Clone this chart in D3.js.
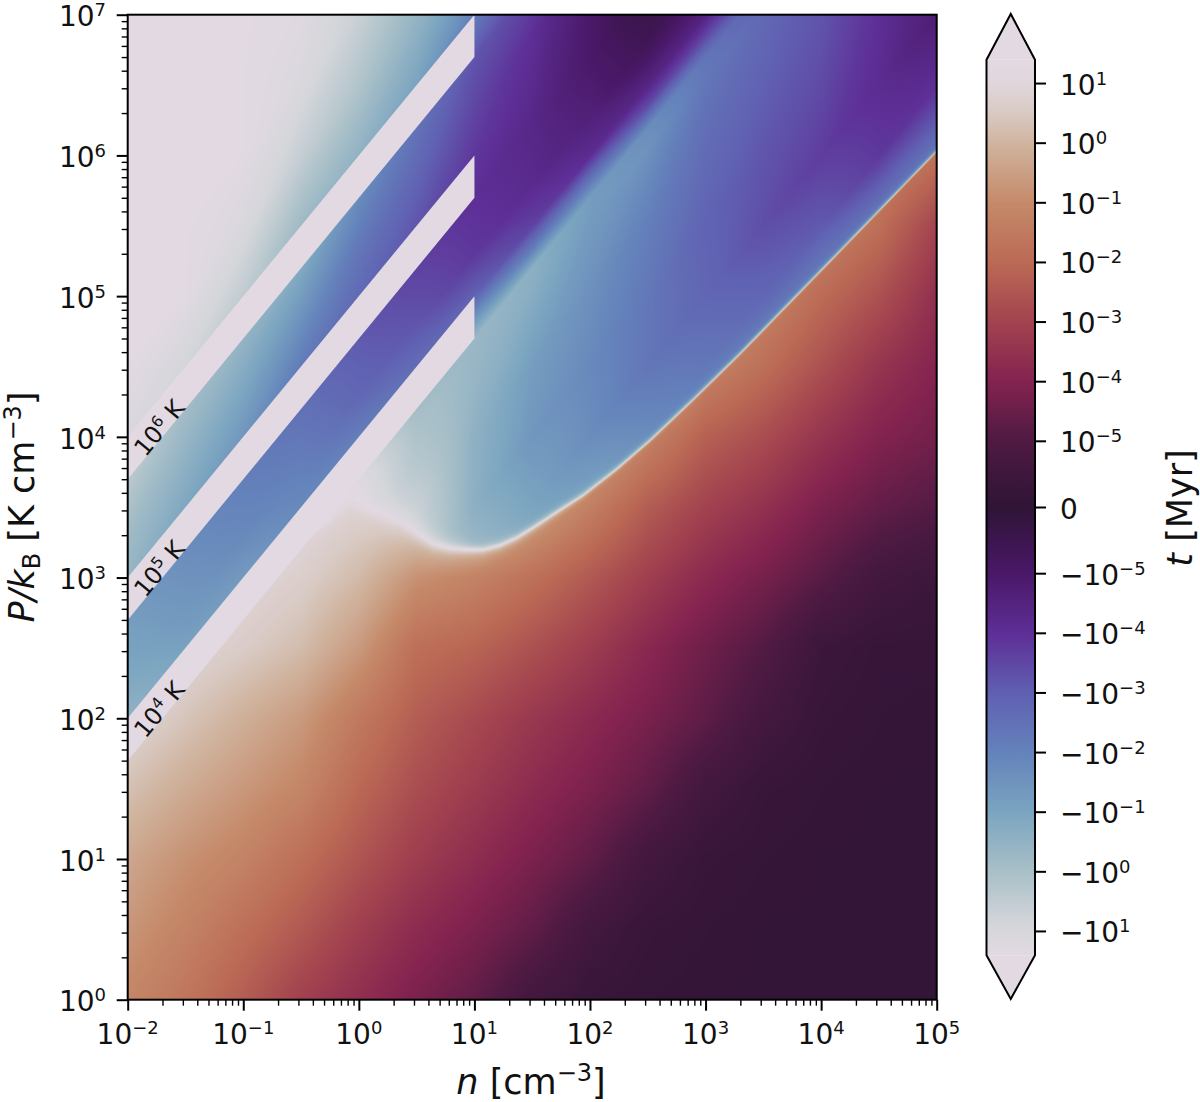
<!DOCTYPE html>
<html><head><meta charset="utf-8">
<style>html,body{margin:0;padding:0;background:#fff}svg{display:block}text{font-family:"DejaVu Sans";fill:#111}</style>
<script src="https://cdn.jsdelivr.net/npm/d3@7"></script></head><body><div id="c"></div>
<script>
// Axis ticks
const nExps=[-2,-1,0,1,2,3,4,5];
const pExps=[0,1,2,3,4,5,6,7];
const cbarExps=[1,0,-1,-2,-3,-4,-5];
// Temperature stripes
const stripeT=[1e4,1e5,1e6];
const stripeLabels=[4,5,6];
const stripeNRange=[1e-2,10];
const stripeLowFactor=0.5;
// Colour bar: signed position u -> colour (u=sign(t)*(log10|t|+6.11), 0 at t=0)
const cmapU=[-7.51,-7,-6.12,-5.12,-4.12,-3.12,-2.12,-1.12,0,1.12,2.12,3.12,4.12,5.12,6.12,6.6,7.1,7.51];
const cmapC=["#e2d9e2","#d4d6da","#a9c0c8","#7ba5c0","#6483bb","#6060b2","#5e2f97","#4a1868","#2f1436","#4f1a43","#84234f","#a3434f","#bb6a55","#c58a6a","#d0b5a0","#d8c9c2","#e0d6dc","#e2d9e2"];
// Zero-time curve: log n, log P
const edgeLogN=[-2,-0.5,-0.077,0.07,0.356,0.503,0.642,0.79,0.937,1.075,1.22,1.37,1.51,1.72,1.94,2.23,2.52,2.9,3.298,4.163,5];
const edgeLogP=[1.72,3.22,3.57,3.51,3.406,3.32,3.243,3.21,3.20,3.20,3.23,3.286,3.357,3.47,3.585,3.77,3.975,4.27,4.59,5.32,6.03];
// Width of the pale rim along that curve, in dex
const rimLogN=[-2,-0.4,0,0.5,1,2,3,5];
const rimHot=[0.05,0.05,0.08,0.06,0.025,0.018,0.014,0.011];
const rimCool=[0.006,0.006,0.05,0.05,0.03,0.012,0.007,0.005];
// Field columns (log n) shared by both tables
const gridLogN=[-2,-1.5,-1,-0.5,0,0.5,1,1.5,2,2.5,3,3.5,4,4.5,5];
// Above the curve: rows by log T
const hotLogT=[1,1.5,2,2.5,3,3.3,3.55,3.7,3.85,4,4.3,4.7,5,5.35,5.7,6,6.5,7,7.5,8,9];
const hotU=[
[-7.5,-7.5,-7.5,-7.5,-7.5,-7.5,-6,-5.8,-5.5,-5.2,-5,-4.6,-4.4,-4.2,-3.9],
[-7.5,-7.5,-7.5,-7.5,-7.5,-7,-6,-5.5,-5.2,-4.4,-3.8,-3.3,-3,-2.3,-2.1],
[-7.5,-7.5,-7.5,-7.5,-7.5,-7,-6,-5.1,-4.4,-3.75,-3.3,-2.75,-2.4,-2,-1.35],
[-7.5,-7.5,-7.5,-7.5,-7.5,-7,-5.5,-4.7,-4.3,-3.8,-3.2,-2.9,-2.7,-2.1,-1.5],
[-7.5,-7.5,-7.5,-7.5,-7.5,-6.8,-5.55,-4.9,-4.5,-4,-3.45,-3.15,-2.9,-2.3,-1.5],
[-7.5,-7.5,-7.5,-7.5,-7.5,-6.4,-5.7,-5.2,-4.7,-4.3,-3.6,-3.3,-2.9,-2.3,-1.5],
[-7.5,-7.5,-7.5,-7.5,-7.5,-6.2,-5.75,-5.45,-4.85,-4.6,-3.8,-3.4,-2.9,-2.3,-1.5],
[-7.5,-7.5,-7.5,-7.5,-7.3,-6,-5.8,-5.5,-4.9,-4.4,-3.7,-3.1,-2.8,-2.3,-1.5],
[-5.8,-5.3,-5,-4.6,-4.4,-4.5,-4.6,-3.8,-3.5,-2.7,-2.6,-2.4,-2.6,-2.3,-1.5],
[-5.6,-5,-4.8,-4.3,-4,-3.5,-3.2,-2.5,-2,-1.7,-1.6,-1.8,-2.3,-2.2,-1.5],
[-5.2,-4.7,-4.3,-4,-3.3,-2.9,-2.3,-1.9,-1.45,-0.7,-0.8,-1.2,-1.8,-2,-1.5],
[-4.9,-4.4,-4,-3.6,-3,-2.5,-2.1,-1.8,-1.15,-0.25,-0.5,-0.8,-1.2,-1.5,-1.5],
[-5.7,-5.2,-4.7,-3.9,-3.4,-2.9,-2.3,-1.95,-1.15,-0.3,-0.5,-0.8,-1.2,-1.5,-1.5],
[-6,-5.6,-5.2,-4.6,-3.8,-3.3,-2.6,-2.1,-1.3,-0.5,-0.5,-0.8,-1.2,-1.5,-1.5],
[-6.5,-6,-5.7,-5.3,-4.4,-3.7,-2.9,-2.6,-1.6,-0.5,-0.5,-0.8,-1.2,-1.5,-1.5],
[-7.2,-7,-6.6,-5.9,-5.6,-5.1,-4,-3.2,-2,-0.5,-0.5,-0.8,-1.2,-1.5,-1.5],
[-7.5,-7.5,-7.2,-6.7,-6.3,-5.7,-5.3,-3.6,-2.5,-0.5,-0.5,-0.8,-1.2,-1.5,-1.5],
[-7.5,-7.5,-7.5,-7.2,-6.8,-6.3,-5.8,-4,-2.5,-0.5,-0.5,-0.8,-1.2,-1.5,-1.5],
[-7.5,-7.5,-7.5,-7.4,-6.9,-6.5,-6,-4,-2.5,-0.5,-0.5,-0.8,-1.2,-1.5,-1.5],
[-7.5,-7.5,-7.5,-7.5,-7.2,-7,-6.5,-4,-2.5,-0.5,-0.5,-0.8,-1.2,-1.5,-1.5],
[-7.5,-7.5,-7.5,-7.5,-7.5,-7.5,-7,-4,-2.5,-0.5,-0.5,-0.8,-1.2,-1.5,-1.5]
];
// Below the curve: rows by log P
const coolLogP=[0,0.5,1,1.5,2,2.5,3,3.5,4,4.5,5,5.5,6,6.5,7];
const coolU=[
[5,4.5,3.8,3.05,2.5,1.95,1.45,0.7,0.3,0.2,0.15,0.15,0.15,0.15,0.15],
[5.4,4.9,4.3,3.7,3,2.4,1.95,1.45,0.7,0.3,0.2,0.15,0.15,0.15,0.15],
[5.8,5.3,4.9,4.3,3.6,2.95,2.45,1.95,1.45,0.7,0.3,0.2,0.15,0.15,0.15],
[6.4,5.9,5.45,5,4.1,3.4,2.9,2.4,1.95,1.45,0.7,0.3,0.2,0.15,0.15],
[7,6.5,6,5.5,4.6,3.8,3.3,2.8,2.35,1.9,1.4,0.75,0.3,0.2,0.15],
[7.3,7,6.7,6.3,5.5,4.3,4,3.5,2.95,2.3,1.7,1.2,0.45,0.25,0.25],
[7.5,7.3,7.1,6.8,6.25,5.3,4.9,4.35,3.7,3,2.35,1.85,1.3,0.7,0.45],
[7.5,7.5,7.4,7.2,6.9,7,7,5.8,4.8,3.8,3.1,2.6,1.95,1.5,1.2],
[7.5,7.5,7.5,7.5,7.3,7.2,7.2,7,6,4.9,3.9,3.4,2.7,2.1,1.8],
[7.5,7.5,7.5,7.5,7.5,7.5,7.5,7.5,7,6.5,5,4.3,3.5,2.7,2.15],
[7.5,7.5,7.5,7.5,7.5,7.5,7.5,7.5,7.5,7.2,6,5,4.2,3.5,2.55],
[7.5,7.5,7.5,7.5,7.5,7.5,7.5,7.5,7.5,7.5,7,6,5,4.3,3.15],
[7.5,7.5,7.5,7.5,7.5,7.5,7.5,7.5,7.5,7.5,7.5,7,6,5,4.4],
[7.5,7.5,7.5,7.5,7.5,7.5,7.5,7.5,7.5,7.5,7.5,7.5,7,6,5],
[7.5,7.5,7.5,7.5,7.5,7.5,7.5,7.5,7.5,7.5,7.5,7.5,7.5,7,6]
];
const W=1200,H=1102;
const L=127.7,R=936.7,T=14.7,B=999.7;
const x=d3.scaleLog().domain([1e-2,1e5]).range([L,R]);
const y=d3.scaleLog().domain([1,1e7]).range([B,T]);
const uScale=d3.scaleLinear().domain([-7.51,7.51]).range([955.3,59.7]);
const colorOf=d3.scaleLinear().domain(cmapU).range(cmapC).interpolate(d3.interpolateRgb).clamp(true);
const edge=d3.scaleLinear().domain(edgeLogN).range(edgeLogP);
const hotRim=d3.scaleLinear().domain(rimLogN).range(rimHot).clamp(true);
const coolRim=d3.scaleLinear().domain(rimLogN).range(rimCool).clamp(true);
const LUTN=1500,lut=[];
for(let i=0;i<=LUTN;i++){const c=d3.rgb(colorOf(-7.51+15.02*i/LUTN));lut.push([c.r,c.g,c.b]);}
function bil(xs,ys,m,a,b){
  const i=Math.max(0,Math.min(xs.length-2,d3.bisectRight(xs,a)-1));
  const j=Math.max(0,Math.min(ys.length-2,d3.bisectRight(ys,b)-1));
  const fx=Math.max(0,Math.min(1,(a-xs[i])/(xs[i+1]-xs[i])));
  const fy=Math.max(0,Math.min(1,(b-ys[j])/(ys[j+1]-ys[j])));
  return (m[j][i]*(1-fx)+m[j][i+1]*fx)*(1-fy)+(m[j+1][i]*(1-fx)+m[j+1][i+1]*fx)*fy;
}
// Raster of the field: near the curve the value runs out to the ends of the colour bar
const iw=Math.round(R-L),ih=Math.round(B-T);
const cv=document.createElement("canvas");cv.width=iw;cv.height=ih;
const ctx=cv.getContext("2d");const img=ctx.createImageData(iw,ih);
let k=0;
for(let py=0;py<ih;py++){
  const logP=Math.log10(y.invert(T+(py+.5)*(B-T)/ih));
  for(let px=0;px<iw;px++){
    const logN=Math.log10(x.invert(L+(px+.5)*(R-L)/iw));
    const d=logP-edge(logN);
    let u;
    if(d>=0){const v=bil(gridLogN,hotLogT,hotU,logN,logP-logN),w=Math.exp(-d/hotRim(logN));u=v+(-7.51-v)*w;}
    else{const v=bil(gridLogN,coolLogP,coolU,logN,logP),w=Math.exp(d/coolRim(logN));u=v+(7.51-v)*w;}
    const c=lut[Math.max(0,Math.min(LUTN,Math.round((u+7.51)/15.02*LUTN)))];
    img.data[k++]=c[0];img.data[k++]=c[1];img.data[k++]=c[2];img.data[k++]=255;
  }
}
ctx.putImageData(img,0,0);
const svg=d3.select("#c").append("svg").attr("width",W).attr("height",H).attr("viewBox",`0 0 ${W} ${H}`);
svg.append("image").attr("x",L).attr("y",T).attr("width",R-L).attr("height",B-T).attr("preserveAspectRatio","none").attr("href",cv.toDataURL());
// Stripes
const line=d3.line().x(d=>x(d[0])).y(d=>y(d[1]));
svg.selectAll("path.stripe").data(stripeT).join("path").attr("class","stripe").attr("fill","#e2d9e2")
 .attr("d",t=>line([[stripeNRange[0],stripeNRange[0]*t],[stripeNRange[1],stripeNRange[1]*t],[stripeNRange[1],stripeNRange[1]*t*stripeLowFactor],[stripeNRange[0],stripeNRange[0]*t*stripeLowFactor]])+"Z");
function pow(sel,pre,exp){
  sel.append("tspan").text(pre+"10");
  sel.append("tspan").attr("dy",-10).attr("font-size",18).text(exp);
}
const angle=-Math.atan((y(1)-y(10))/(x(10)-x(1)))*180/Math.PI;
stripeT.forEach((t,i)=>{
  const n=0.0187,p=n*t*0.62,f=24;
  const g=svg.append("text").attr("transform",`translate(${x(n)},${y(p)}) rotate(${angle})`).attr("text-anchor","middle").attr("dy",8.5).attr("font-size",f);
  g.append("tspan").text("10");
  g.append("tspan").attr("dy",-0.36*f).attr("font-size",f*0.65).text(stripeLabels[i]);
  g.append("tspan").attr("dy",0.36*f).text(" K");
});
// Axes
const fs=28;
function styleAxis(g,isMajor,major,minor,horizontal){
  g.select(".domain").remove();
  g.selectAll(".tick text").remove();
  g.selectAll(".tick line").attr("stroke","#000")
   .attr("stroke-width",d=>isMajor(d)?2:1.4)
   .each(function(d){const l=isMajor(d)?major:minor;d3.select(this).attr(horizontal?"y2":"x2",horizontal?l:-l);});
}
const isDec=d=>Math.abs(Math.log10(d)-Math.round(Math.log10(d)))<1e-6;
const gx=svg.append("g").attr("transform",`translate(0,${B})`).call(d3.axisBottom(x).tickValues(x.ticks()));
styleAxis(gx,isDec,11,6,true);
const gy=svg.append("g").attr("transform",`translate(${L},0)`).call(d3.axisLeft(y).tickValues(y.ticks()));
styleAxis(gy,isDec,11,6,false);
nExps.forEach(e=>{
  const t=svg.append("text").attr("x",x(10**e)).attr("y",1043.5).attr("text-anchor","middle").attr("font-size",fs);
  pow(t,"",e<0?"\u2212"+(-e):e);
});
pExps.forEach(e=>{
  const t=svg.append("text").attr("x",106).attr("y",y(10**e)+11.7).attr("text-anchor","end").attr("font-size",fs);
  pow(t,"",e);
});
svg.append("rect").attr("x",L).attr("y",T).attr("width",R-L).attr("height",B-T).attr("fill","none").attr("stroke","#000").attr("stroke-width",2);
// Axis titles
const tf=35,tsup=24;
const tx=svg.append("text").attr("x",531).attr("y",1094).attr("text-anchor","middle").attr("font-size",tf);
tx.append("tspan").attr("font-style","italic").text("n");
tx.append("tspan").text(" [cm");
tx.append("tspan").attr("dy",-13).attr("font-size",tsup).text("\u22123");
tx.append("tspan").attr("dy",13).text("]");
const ty=svg.append("text").attr("transform","translate(33.5,507) rotate(-90)").attr("text-anchor","middle").attr("font-size",tf);
ty.append("tspan").attr("font-style","italic").text("P/k");
ty.append("tspan").attr("dy",6).attr("font-size",tsup).text("B");
ty.append("tspan").attr("dy",-6).text(" [K cm");
ty.append("tspan").attr("dy",-13).attr("font-size",tsup).text("\u22123");
ty.append("tspan").attr("dy",13).text("]");
const tc=svg.append("text").attr("transform","translate(1192,508) rotate(-90)").attr("text-anchor","middle").attr("font-size",tf);
tc.append("tspan").attr("font-style","italic").text("t");
tc.append("tspan").text(" [Myr]");
// Colour bar
const cL=986.5,cR=1035,cM=(cL+cR)/2,cTip=14,cBot=999;
const defs=svg.append("defs");
const grad=defs.append("linearGradient").attr("id","cb").attr("gradientUnits","userSpaceOnUse").attr("x1",0).attr("x2",0).attr("y1",uScale(-7.51)).attr("y2",uScale(7.51));
grad.selectAll("stop").data(cmapU).join("stop").attr("offset",d=>(d+7.51)/15.02).attr("stop-color",(d,i)=>cmapC[i]);
const cbTop=uScale(7.51),cbBot=uScale(-7.51);
const outline=[[cL,cbTop],[cM,cTip],[cR,cbTop],[cR,cbBot],[cM,cBot],[cL,cbBot]];
svg.append("path").attr("d",`M${cL},${cbTop}L${cM},${cTip}L${cR},${cbTop}Z`).attr("fill",cmapC[cmapC.length-1]);
svg.append("path").attr("d",`M${cL},${cbBot}L${cM},${cBot}L${cR},${cbBot}Z`).attr("fill",cmapC[0]);
svg.append("rect").attr("x",cL).attr("y",cbTop).attr("width",cR-cL).attr("height",cbBot-cbTop).attr("fill","url(#cb)");
svg.append("path").attr("d",d3.line()(outline)+"Z").attr("fill","none").attr("stroke","#000").attr("stroke-width",2);
const tickU=[];
cbarExps.forEach(e=>tickU.push({u:e+6.11,e,s:""}));
tickU.push({u:0,zero:true});
cbarExps.slice().reverse().forEach(e=>tickU.push({u:-(e+6.11),e,s:"\u2212"}));
const cg=svg.selectAll("g.cb").data(tickU).join("g").attr("class","cb").attr("transform",d=>`translate(${cR},${uScale(d.u)})`);
cg.append("line").attr("x2",11).attr("stroke","#000").attr("stroke-width",2);
cg.each(function(d){
  const t=d3.select(this).append("text").attr("x",25).attr("y",11).attr("font-size",fs);
  if(d.zero){t.text("0");return;}
  pow(t,d.s,d.e<0?"\u2212"+(-d.e):d.e);
});
</script></body></html>
